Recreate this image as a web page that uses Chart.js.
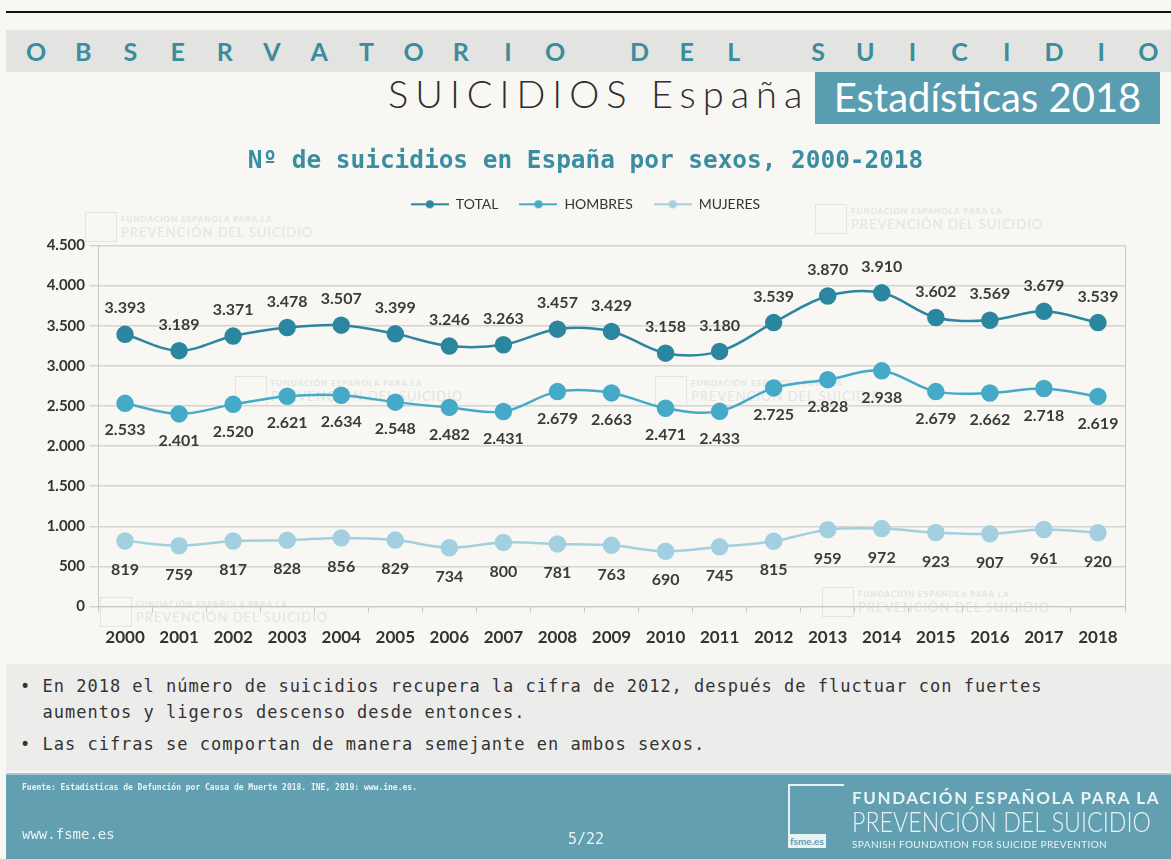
<!DOCTYPE html>
<html lang="es">
<head>
  <meta charset="UTF-8" />
  <title>Observatorio del Suicidio - Estadísticas 2018</title>
  <script src="https://cdn.jsdelivr.net/npm/chart.js@4.4.0/dist/chart.umd.min.js"></script>
  <style>
    body { margin: 0; width: 1171px; height: 859px; background: #f8f7f3; position: relative; overflow: hidden; font-family: Lato, sans-serif; }
    .topline { position: absolute; left: 6px; right: 0; top: 11px; height: 2px; background: #111; }
    .band { position: absolute; left: 6px; right: 0; top: 30px; height: 42px; background: #e3e3e1; }
    .band span { position: absolute; top: 6px; width: 48px; text-align: center; font: bold 25px Lato, sans-serif; color: #3b8c9d; }
    .subtitle { position: absolute; left: 388px; top: 70px; font: 300 38px Lato, sans-serif; letter-spacing: 7px; color: #2e2e2e; white-space: nowrap; }
    .badge { position: absolute; left: 815px; top: 72px; width: 345px; height: 52px; background: #5b9db0; color: #fff; font: 40px Lato, sans-serif; line-height: 50px; text-align: center; white-space: nowrap; }
    .wm { position: absolute; color: #e4e4e1; line-height: 1; }
    .wm .box { position: absolute; left: 0; top: 0; width: 30px; height: 28px; border: 1px solid #e4e4e1; }
    .wm .l1 { position: absolute; left: 36px; top: 2px; font: bold 8px Lato, sans-serif; letter-spacing: 1px; white-space: nowrap; }
    .wm .l2 { position: absolute; left: 36px; top: 12px; font: 13px Lato, sans-serif; letter-spacing: 1px; white-space: nowrap; }
    #chartBox { position: absolute; left: 0; top: 135px; width: 1171px; height: 538px; }
    .notes { position: absolute; left: 6px; right: 0; top: 664px; height: 107px; background: #ececeb; font: 17px "DejaVu Sans Mono", monospace; letter-spacing: 1px; color: #333; }
    .notes p { position: absolute; margin: 0; left: 14px; white-space: pre; }
    .footer { position: absolute; left: 6px; right: 0; top: 773px; height: 86px; background: #62a0b1; border-top: 2px solid #a9c9d2; color: #e9f3f5; }
    .src { position: absolute; left: 16px; top: 8px; font: bold 8px "DejaVu Sans Mono", monospace; }
    .web { position: absolute; left: 16px; top: 51px; font: 14px "DejaVu Sans Mono", monospace; }
    .page { position: absolute; left: 562px; top: 55px; font: 15px "DejaVu Sans Mono", monospace; }
    .logo { position: absolute; left: 782px; top: 9px; width: 54px; height: 62px; border: 2px solid #e9f3f5; border-right: none; border-bottom: none; }
    .logo b { position: absolute; left: -2px; bottom: 0; font: bold 10px Lato, sans-serif; background: #e9f3f5; color: #62a0b1; padding: 1px 2px; }
    .fl1 { position: absolute; left: 846px; top: 12px; font: bold 17px Lato, sans-serif; letter-spacing: 1.6px; white-space: nowrap; }
    .fl2 { position: absolute; left: 846px; top: 30px; font: 300 27px Lato, sans-serif; white-space: nowrap; transform: scaleX(0.86); transform-origin: left top; }
    .fl3 { position: absolute; left: 846px; top: 63px; font: 10px Lato, sans-serif; letter-spacing: 0.4px; white-space: nowrap; }
  </style>
</head>
<body>
  <div class="topline"></div>
  <div class="band" id="band"></div>
  <div class="subtitle">SUICIDIOS España</div>
  <div class="badge">Estadísticas 2018</div>

  <div class="wm" style="left:85px;top:212px"><div class="box"></div><div class="l1">FUNDACIÓN ESPAÑOLA PARA LA</div><div class="l2">PREVENCIÓN DEL SUICIDIO</div></div>
  <div class="wm" style="left:815px;top:204px"><div class="box"></div><div class="l1">FUNDACIÓN ESPAÑOLA PARA LA</div><div class="l2">PREVENCIÓN DEL SUICIDIO</div></div>
  <div class="wm" style="left:235px;top:376px"><div class="box"></div><div class="l1">FUNDACIÓN ESPAÑOLA PARA LA</div><div class="l2">PREVENCIÓN DEL SUICIDIO</div></div>
  <div class="wm" style="left:655px;top:376px"><div class="box"></div><div class="l1">FUNDACIÓN ESPAÑOLA PARA LA</div><div class="l2">PREVENCIÓN DEL SUICIDIO</div></div>
  <div class="wm" style="left:100px;top:597px"><div class="box"></div><div class="l1">FUNDACIÓN ESPAÑOLA PARA LA</div><div class="l2">PREVENCIÓN DEL SUICIDIO</div></div>
  <div class="wm" style="left:822px;top:587px"><div class="box"></div><div class="l1">FUNDACIÓN ESPAÑOLA PARA LA</div><div class="l2">PREVENCIÓN DEL SUICIDIO</div></div>

  <div id="chartBox"><canvas id="suicidesChart"></canvas></div>

  <div class="notes">
    <p style="top:12px">• En 2018 el número de suicidios recupera la cifra de 2012, después de fluctuar con fuertes</p>
    <p style="top:38px">  aumentos y ligeros descenso desde entonces.</p>
    <p style="top:70px">• Las cifras se comportan de manera semejante en ambos sexos.</p>
  </div>

  <div class="footer">
    <div class="src">Fuente: Estadísticas de Defunción por Causa de Muerte 2018. INE, 2019: www.ine.es.</div>
    <div class="web">www.fsme.es</div>
    <div class="page">5/22</div>
    <div class="logo"><b>fsme.es</b></div>
    <div class="fl1">FUNDACIÓN ESPAÑOLA PARA LA</div>
    <div class="fl2">PREVENCIÓN DEL SUICIDIO</div>
    <div class="fl3">SPANISH FOUNDATION FOR SUICIDE PREVENTION</div>
  </div>

  <script>
    // data
    const years = ['2000', '2001', '2002', '2003', '2004', '2005', '2006', '2007', '2008', '2009',
                   '2010', '2011', '2012', '2013', '2014', '2015', '2016', '2017', '2018'];
    const total   = [3393, 3189, 3371, 3478, 3507, 3399, 3246, 3263, 3457, 3429, 3158, 3180, 3539, 3870, 3910, 3602, 3569, 3679, 3539];
    const hombres = [2533, 2401, 2520, 2621, 2634, 2548, 2482, 2431, 2679, 2663, 2471, 2433, 2725, 2828, 2938, 2679, 2662, 2718, 2619];
    const mujeres = [819, 759, 817, 828, 856, 829, 734, 800, 781, 763, 690, 745, 815, 959, 972, 923, 907, 961, 920];
    const seriesNames = ['TOTAL', 'HOMBRES', 'MUJERES'];
    const yMax = 4500;
    const yStep = 500;

    // spaced-out header letters
    const band = document.getElementById('band');
    let bx = 6;
    for (const ch of 'OBSERVATORIO DEL SUICIDIO') {
      if (ch === ' ') { bx += 37; continue; }
      const s = document.createElement('span');
      s.textContent = ch;
      s.style.left = bx + 'px';
      band.appendChild(s);
      bx += 47.2;
    }

    const fmt = n => String(n).replace(/\B(?=(\d{3})+(?!\d))/g, '.');

    // legend marker: short line with a dot in the middle
    function legendMarker(color) {
      const c = document.createElement('canvas');
      c.width = 38; c.height = 12;
      const g = c.getContext('2d');
      g.strokeStyle = color; g.lineWidth = 2;
      g.beginPath(); g.moveTo(0, 6); g.lineTo(38, 6); g.stroke();
      g.fillStyle = color;
      g.beginPath(); g.arc(19, 6, 4, 0, Math.PI * 2); g.fill();
      return c;
    }

    // value labels above/below each point
    const valueLabels = {
      id: 'valueLabels',
      afterDatasetsDraw(chart) {
        const ctx = chart.ctx;
        ctx.save();
        ctx.font = 'bold 16px Lato, sans-serif';
        ctx.fillStyle = '#3b3b3b';
        ctx.textAlign = 'center';
        ctx.textBaseline = 'middle';
        chart.data.datasets.forEach((ds, i) => {
          chart.getDatasetMeta(i).data.forEach((pt, j) => {
            ctx.fillText(fmt(ds.data[j]), pt.x, pt.y + ds.labelOffset);
          });
        });
        ctx.restore();
      }
    };

    const colors = ['#2b86a0', '#44aac8', '#a3d0e0'];
    const series = [total, hombres, mujeres];
    const offsets = [-26, 27, 29];

    new Chart(document.getElementById('suicidesChart'), {
      type: 'line',
      data: {
        labels: years,
        datasets: series.map((d, i) => ({
          label: seriesNames[i],
          data: d,
          borderColor: colors[i],
          backgroundColor: colors[i],
          pointBackgroundColor: colors[i],
          pointBorderColor: colors[i],
          borderWidth: 2.5,
          pointRadius: 7.5,
          pointHoverRadius: 7.5,
          tension: 0.35,
          labelOffset: offsets[i]
        }))
      },
      options: {
        responsive: true,
        maintainAspectRatio: false,
        animation: false,
        layout: { padding: { left: 0, right: 0, top: 0, bottom: 10 } },
        plugins: {
          title: {
            display: true,
            text: 'Nº de suicidios en España por sexos, 2000-2018',
            color: '#3a8ea1',
            font: { family: '"DejaVu Sans Mono", monospace', size: 24.4, weight: 'bold' },
            padding: { top: 12, bottom: 0 }
          },
          // empty spacer between the legend and the plot
          subtitle: {
            display: true,
            text: '',
            weight: 500,
            font: { size: 1 },
            padding: { top: 23, bottom: 0 }
          },
          legend: {
            display: true,
            labels: {
              usePointStyle: true,
              pointStyleWidth: 38,
              padding: 21,
              color: '#333',
              font: { family: 'Lato, sans-serif', size: 14 },
              generateLabels: chart => chart.data.datasets.map((ds, i) => ({
                text: ds.label,
                pointStyle: legendMarker(colors[i]),
                fontColor: '#333',
                strokeStyle: colors[i],
                fillStyle: colors[i],
                lineWidth: 0,
                datasetIndex: i
              }))
            }
          },
          tooltip: { enabled: false }
        },
        scales: {
          x: {
            offset: true,
            grid: { offset: true, drawOnChartArea: false, drawTicks: true, tickLength: 6, color: '#c8c8c6' },
            border: { color: '#c8c8c6' },
            ticks: { color: '#333', padding: 15, font: { family: 'Lato, sans-serif', size: 17, weight: 'bold' }, maxRotation: 0 }
          },
          y: {
            min: 0,
            max: yMax,
            afterFit: s => { s.width = 98; },
            grid: { color: '#d4d4d2', lineWidth: 1.5, tickLength: 9 },
            border: { color: '#c8c8c6' },
            ticks: { stepSize: yStep, color: '#333', padding: 4, font: { family: 'Lato, sans-serif', size: 15, weight: 'bold' }, callback: v => fmt(v) }
          },
          yRight: {
            position: 'right',
            min: 0,
            max: yMax,
            afterFit: s => { s.width = 46; },
            grid: { display: false },
            border: { display: true, color: '#c8c8c6' },
            ticks: { display: false }
          }
        }
      },
      plugins: [valueLabels]
    });
  </script>
</body>
</html>
